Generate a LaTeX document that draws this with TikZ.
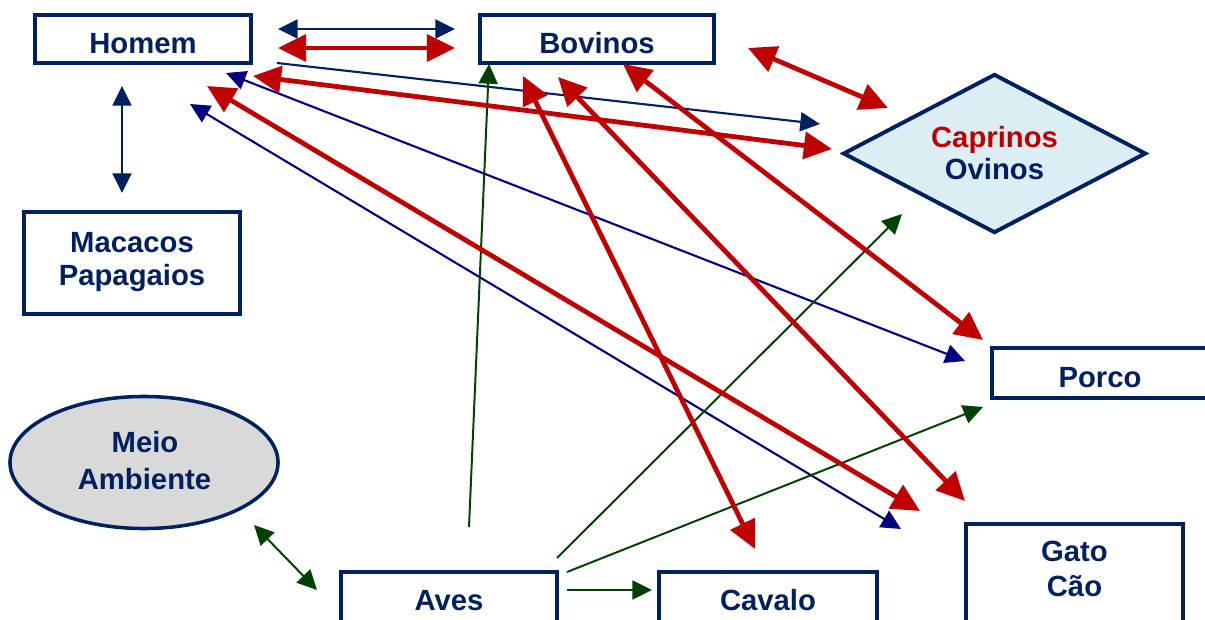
\documentclass[tikz,border=0pt]{standalone}
\usepackage{fontspec}
\setmainfont{Liberation Sans}
\usetikzlibrary{arrows.meta,shapes.geometric}
\definecolor{navy}{RGB}{0,32,96}
\definecolor{deepblue}{RGB}{0,0,128}
\definecolor{dred}{RGB}{192,0,0}
\definecolor{dgreen}{RGB}{0,64,0}
\definecolor{skyfill}{RGB}{218,238,243}
\definecolor{greyfill}{RGB}{217,217,217}
\begin{document}
\begin{tikzpicture}[x=0.025cm, y=-0.025cm,
  box/.style={draw=navy, line width=2.4pt, inner sep=0pt},
  lbl/.style={anchor=base, text=navy, inner sep=0pt,
    font=\fontsize{20.8}{25}\selectfont\bfseries},
  rline/.style={draw=dred, line width=3.4pt,
    arrows={Triangle[length=20pt 0, width=19pt 0]-Triangle[length=20pt 0, width=19pt 0]}},
  bline/.style={draw=#1, line width=1.5pt},
  bline/.default=deepblue,
  both/.style={arrows={Triangle[length=14pt 0, width=13.5pt 0]-Triangle[length=14pt 0, width=13.5pt 0]}},
  fwd/.style={arrows={-Triangle[length=14pt 0, width=13.5pt 0]}},
  gline/.style={draw=dgreen, line width=1.4pt}]
\useasboundingbox (0,0) rectangle (1205,619);
\clip (0,0) rectangle (1205,619);

% ---- boxes and shapes ----
\node[box, minimum width=5.4cm,  minimum height=1.2cm]  (homem)   at (143,39)    {};
\node[box, minimum width=5.85cm, minimum height=1.2cm]  (bovinos) at (597,39)    {};
\node[box, minimum width=5.4cm,  minimum height=2.55cm] (macacos) at (132,263)   {};
\node[box, minimum width=5.4cm,  minimum height=1.25cm] (porco)   at (1100,373)  {};
\node[box, minimum width=5.425cm,minimum height=3cm]    (gato)    at (1074.5,584){};
\node[box, minimum width=5.4cm,  minimum height=1.9cm]  (aves)    at (449,610)   {};
\node[box, minimum width=5.45cm, minimum height=1.9cm]  (cavalo)  at (768,610)   {};
\node[diamond, draw=navy, line width=2.8pt, fill=skyfill, inner sep=0pt,
      minimum width=7.575cm, minimum height=3.975cm] (caprinos) at (994.5,153.5) {};
\node[ellipse, draw=navy, line width=2.5pt, fill=greyfill, inner sep=0pt,
      minimum width=6.7cm, minimum height=3.3cm] (meio) at (144,462.5) {};

% ---- labels ----
\node[lbl] (tHomem)    at (143,53)    {Homem};
\node[lbl] (tBovinos)  at (597,53)    {Bovinos};
\node[lbl] (tMacacos)  at (132,252)   {Macacos};
\node[lbl] (tPapag)    at (132,285)   {Papagaios};
\node[lbl, text=dred] (tCaprinos) at (994.5,147) {Caprinos};
\node[lbl] (tOvinos)   at (994.5,179) {Ovinos};
\node[lbl] (tPorco)    at (1100,387)  {Porco};
\node[lbl] (tMeio)     at (145,452)   {Meio};
\node[lbl] (tAmbiente) at (144.5,489) {Ambiente};
\node[lbl] (tAves)     at (449,610)   {Aves};
\node[lbl] (tCavalo)   at (768,610)   {Cavalo};
\node[lbl] (tGato)     at (1074.5,561){Gato};
\node[lbl] (tCao)      at (1074.5,596){Cão};

% ---- connector end points ----
\coordinate (hbA) at (278,29);   \coordinate (hbB) at (455,29);
\coordinate (hbC) at (278,48);   \coordinate (hbD) at (455,48);
\coordinate (hcA) at (277,63);   \coordinate (hcB) at (820,124);
\coordinate (hpA) at (226,73);   \coordinate (hpB) at (965,361);
\coordinate (hgA) at (190,104);  \coordinate (hgB) at (901,529);
\coordinate (hmA) at (122,86);   \coordinate (hmB) at (122,193);
\coordinate (hcC) at (253,76);   \coordinate (hcD) at (832,149);
\coordinate (hgC) at (207,86);   \coordinate (hgD) at (920,511);
\coordinate (bvA) at (523,76);   \coordinate (bvB) at (755,549);
\coordinate (bgA) at (558,77);   \coordinate (bgB) at (965,501);
\coordinate (bpA) at (623,64);   \coordinate (bpB) at (983,340);
\coordinate (bcA) at (748,48);   \coordinate (bcB) at (888,108);
\coordinate (abA) at (469,527);  \coordinate (abB) at (489,64);
\coordinate (acA) at (557,558);  \coordinate (acB) at (902,214);
\coordinate (apA) at (567,572);  \coordinate (apB) at (983,407);
\coordinate (avA) at (567,590);  \coordinate (avB) at (652,590);
\coordinate (maA) at (254,525);  \coordinate (maB) at (317,590);

% ---- blue connectors ----
\draw[bline=navy, both] (hbA) -- (hbB);
\draw[bline=navy, both] (hmA) -- (hmB);
\draw[bline=navy, fwd]  (hcA) -- (hcB);
\draw[bline, both] (hpA) -- (hpB);
\draw[bline, both] (hgA) -- (hgB);

% ---- green connectors ----
\draw[gline, fwd]  (abA) -- (abB);
\draw[gline, fwd]  (acA) -- (acB);
\draw[gline, fwd]  (apA) -- (apB);
\draw[gline, fwd]  (avA) -- (avB);
\draw[gline, both] (maA) -- (maB);

% ---- red connectors ----
\draw[rline] (hbC) -- (hbD);
\draw[rline] (hcC) -- (hcD);
\draw[rline] (hgC) -- (hgD);
\draw[rline] (bvA) -- (bvB);
\draw[rline] (bgA) -- (bgB);
\draw[rline] (bpA) -- (bpB);
\draw[rline] (bcA) -- (bcB);
\end{tikzpicture}
\end{document}
